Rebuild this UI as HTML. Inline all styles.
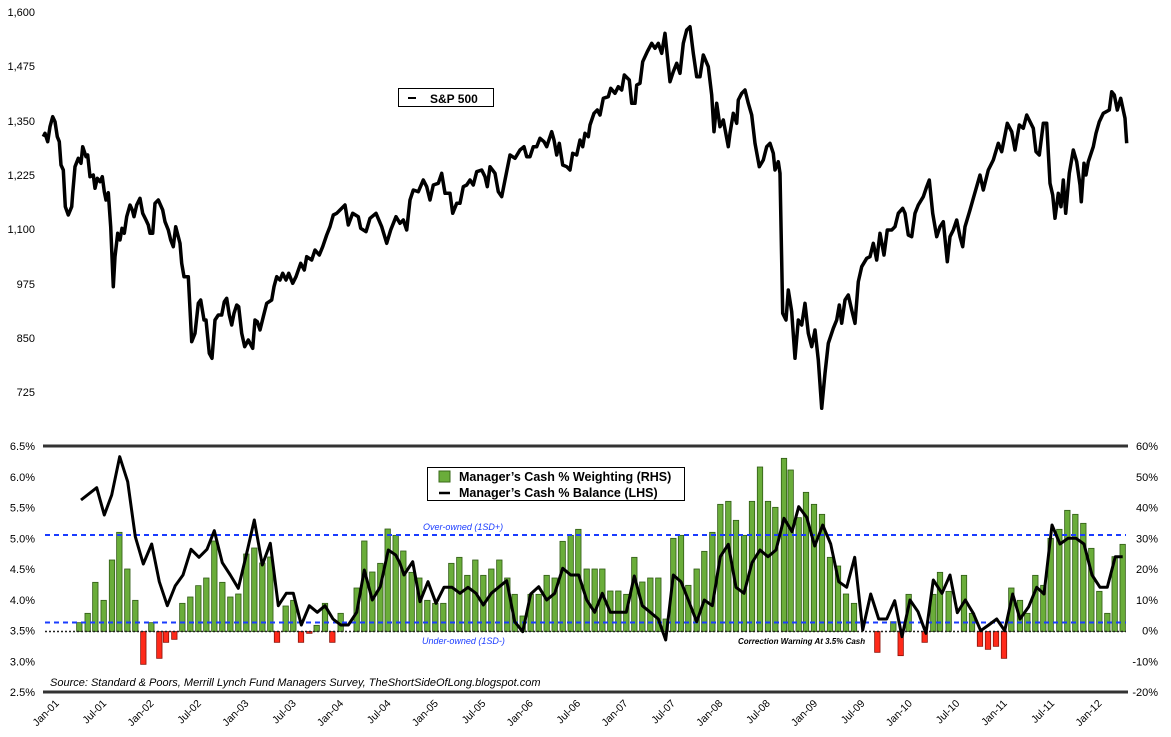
<!DOCTYPE html>
<html><head><meta charset="utf-8">
<style>
html,body{margin:0;padding:0;background:#fff;}
svg{display:block;font-family:"Liberation Sans",sans-serif;}
</style></head>
<body>
<svg id="c" width="1171" height="737" viewBox="0 0 1171 737" xmlns="http://www.w3.org/2000/svg">
<rect width="1171" height="737" fill="#fff"/>
<g font-size="11" fill="#000" text-anchor="end">
<text x="35" y="16">1,600</text>
<text x="35" y="70">1,475</text>
<text x="35" y="125">1,350</text>
<text x="35" y="179">1,225</text>
<text x="35" y="233">1,100</text>
<text x="35" y="288">975</text>
<text x="35" y="342">850</text>
<text x="35" y="396">725</text>
<text x="35" y="450">6.5%</text>
<text x="35" y="512">6.0%</text>
<text x="35" y="573">5.5%</text>
<text x="35" y="635">5.0%</text>
<text x="35" y="696">4.5%</text>
</g>
<g id="lhs" font-size="11" text-anchor="end"></g>
<g id="rhs" font-size="11" text-anchor="end"></g>
<g id="bars"></g>
<line x1="45" y1="535" x2="1126" y2="535" stroke="#1a3cff" stroke-width="2" stroke-dasharray="5,4"/>
<line x1="45" y1="622.5" x2="1126" y2="622.5" stroke="#1a3cff" stroke-width="2" stroke-dasharray="5,4"/>
<line x1="45" y1="631.5" x2="1126" y2="631.5" stroke="#222" stroke-width="1.5" stroke-dasharray="2,2"/>
<line x1="43" y1="446" x2="1128" y2="446" stroke="#333" stroke-width="3"/>
<line x1="43" y1="692" x2="1128" y2="692" stroke="#333" stroke-width="3"/>
<polyline id="cash" fill="none" stroke="#000" stroke-width="3" stroke-linejoin="round"/>
<polyline id="spx" fill="none" stroke="#000" stroke-width="3.5" stroke-linejoin="round"/>
<rect x="398.5" y="88.5" width="95" height="18" fill="#fff" stroke="#000"/>
<line x1="408" y1="98" x2="416" y2="98" stroke="#000" stroke-width="2"/>
<text x="430" y="103" font-size="12" font-weight="bold">S&amp;P 500</text>
<rect x="427.5" y="467.5" width="257" height="33" fill="#fff" stroke="#000"/>
<rect x="439" y="471" width="11" height="11" fill="#6aad3a" stroke="#3a6a1a"/>
<text x="459" y="481" font-size="12.5" font-weight="bold">Manager’s Cash % Weighting (RHS)</text>
<line x1="439" y1="493" x2="450" y2="493" stroke="#000" stroke-width="2.5"/>
<text x="459" y="497" font-size="12.5" font-weight="bold">Manager’s Cash % Balance (LHS)</text>
<text x="423" y="530" font-size="9" font-style="italic" fill="#1a3cff">Over-owned (1SD+)</text>
<text x="422" y="644" font-size="9" font-style="italic" fill="#1a3cff">Under-owned (1SD-)</text>
<text x="738" y="644" font-size="8" font-style="italic" font-weight="bold" fill="#000">Correction Warning At 3.5% Cash</text>
<text x="50" y="686" font-size="11" font-style="italic">Source: Standard &amp; Poors, Merrill Lynch Fund Managers Survey, TheShortSideOfLong.blogspot.com</text>
<g id="xl" font-size="10.5" text-anchor="end"></g>
</svg>
<script>
var NS="http://www.w3.org/2000/svg";
function el(t,a,p,txt){var e=document.createElementNS(NS,t);for(var k in a)e.setAttribute(k,a[k]);if(txt!=null)e.textContent=txt;document.getElementById(p).appendChild(e);return e;}
// left axis lower
var L=["6.5%","6.0%","5.5%","5.0%","4.5%","4.0%","3.5%","3.0%","2.5%"];
// remove duplicates of static
var st=document.querySelectorAll("svg > g")[0].children;for(var i=st.length-1;i>=8;i--)st[i].remove();
for(var i=0;i<9;i++)el("text",{x:35,y:446+i*30.75+4},"lhs",L[i]);
var R=["60%","50%","40%","30%","20%","10%","0%","-10%","-20%"];
for(var i=0;i<9;i++)el("text",{x:1158,y:446+i*30.75+4},"rhs",R[i]);
// x labels
var mn=["Jan","Jul"];
for(var m=0;m<=132;m+=6){var x=55.6+7.9*m;var yy=String(Math.floor(m/12)+1);if(yy.length<2)yy="0"+yy;
var lab=mn[(m/6)%2]+"-"+yy;el("text",{x:0,y:0,transform:"translate("+(x+4)+",704) rotate(-45)"},"xl",lab);}
// bars
function bz(arr,ox,skip){var o=[];arr.forEach(function(p){if(skip&&p[0]<skip)return;o.push([ox+p[0]/3,440+p[1]/3]);});return o;}
var b1=[[238,548],[263,520],[286,427],[311,481],[336,360],[358,277],[382,387],[406,481],[430,673],[454,548],[478,655],[498,607],[523,598],[547,490],[571,471],[595,437],[619,414],[643,303],[667,427],[691,471],[715,462],[739,342],[763,324],[787,369],[811,351],[831,607],[857,498],[880,481],[903,607],[928,580],[950,556],[975,490],[997,607],[1022,520],[1070,444],[1093,303],[1117,396],[1141,370],[1163,267],[1187,286]];
var b2=[[10,333],[35,397],[58,414],[82,481],[106,490],[130,490],[154,370],[178,352],[202,406],[226,360],[250,406],[274,387],[298,360],[322,414],[344,463],[368,528],[392,463],[416,463],[440,406],[464,414],[488,304],[512,286],[535,268],[560,387],[584,387],[607,387],[631,453],[655,453],[679,463],[703,352],[727,426],[751,414],[775,414],[797,537],[820,295],[843,286],[865,436],[890,387],[913,334],[937,277],[961,193],[985,184],[1008,241],[1032,286],[1056,184],[1080,81],[1104,184],[1126,202],[1152,55],[1172,90],[1196,233]];
var b3=[[78,157],[102,193],[126,223],[150,352],[174,378],[198,462],[222,490],[292,637],[340,545],[362,647],[386,463],[434,607],[460,463],[480,397],[506,454],[552,406],[576,520],[600,619],[624,628],[648,619],[672,655],[694,444],[720,481],[742,520],[766,406],[790,436],[812,295],[838,268],[862,211],[886,223],[910,250],[934,325],[958,454],[982,520],[1004,350],[1028,313]];
var bars=bz(b1,0).concat(bz(b2,400)).concat(bz(b3,780));
var base=631.5;
bars.forEach(function(p){var x=p[0],y=p[1];
if(y<base){el("rect",{x:x-2.7,y:y,width:5.4,height:base-y,fill:"#6aad3a",stroke:"#2f5a14","stroke-width":0.8},"bars");}
else{el("rect",{x:x-2.7,y:base,width:5.4,height:y-base,fill:"#ff2a1a",stroke:"#8a1008","stroke-width":0.8},"bars");}});
// cash line
function pz(arr,ox,oy,minx){var s=[];arr.forEach(function(p){var x=ox+p[0]/3;if(minx!=null&&x<=minx)return;s.push(x.toFixed(1)+","+(oy+p[1]/3).toFixed(1));});return s;}
var l1=[[243,180],[290,143],[313,225],[335,165],[359,50],[383,125],[406,290],[430,372],[455,312],[478,425],[502,497],[526,437],[549,405],[573,328],[597,352],[621,328],[643,272],[667,368],[691,405],[715,445],[739,345],[763,240],[787,375],[811,310],[835,497],[859,460],[880,460],[904,555],[928,497],[952,517],[975,497],[999,537],[1022,555],[1045,555],[1070,517],[1093,390],[1117,480],[1141,440],[1165,330],[1187,345]];
var l2=[[0,370],[12,405],[38,365],[60,485],[84,425],[108,490],[132,442],[156,442],[180,460],[204,442],[228,460],[250,495],[274,460],[298,440],[320,422],[344,545],[368,575],[392,462],[416,440],[440,480],[464,460],[488,385],[512,405],[536,405],[560,480],[584,517],[607,460],[631,517],[655,517],[679,517],[703,408],[727,497],[751,517],[775,537],[797,600],[820,405],[843,425],[865,480],[890,545],[913,480],[937,497],[961,350],[985,313],[1008,442],[1032,460],[1056,368],[1080,330],[1104,350],[1128,330],[1152,235],[1176,275],[1196,200]];
var l3=[[0,270],[8,235],[34,282],[56,197],[80,232],[104,318],[128,255],[152,312],[176,425],[200,442],[224,352],[248,570],[272,462],[296,537],[320,537],[344,482],[366,590],[390,480],[414,515],[438,580],[460,420],[486,460],[510,405],[532,518],[556,480],[580,520],[602,572],[626,555],[650,537],[674,572],[698,462],[720,537],[746,500],[770,442],[792,462],[816,255],[840,312],[864,295],[888,295],[912,312],[936,405],[960,442],[982,442],[1006,350],[1028,350]];
document.getElementById("cash").setAttribute("points",pz(l1,0,440).concat(pz(l2,400,440,396)).concat(pz(l3,780,440,800)).join(" "));
// S&P
var s1=[[130,410],[135,400],[143,425],[150,380],[158,350],[165,365],[172,410],[178,425],[183,495],[190,510],[196,620],[205,645],[215,620],[218,580],[225,500],[235,475],[243,490],[248,440],[258,470],[263,465],[270,530],[280,525],[285,565],[292,535],[300,545],[307,530],[313,575],[318,600],[325,578],[332,680],[340,860],[345,770],[353,700],[360,720],[366,685],[373,700],[380,650],[390,615],[397,630],[402,650],[410,615],[420,595],[428,640],[438,660],[445,675],[450,700],[458,700],[465,610],[475,600],[488,630],[495,665],[505,690],[512,720],[520,740],[527,680],[540,730],[545,790],[552,830],[565,830],[575,1025],[585,1000],[595,910],[602,900],[612,960],[618,960],[628,1060],[636,1075],[645,960],[655,945],[665,945],[673,905],[680,895],[688,945],[695,975],[702,940],[710,915],[716,920],[725,1000],[734,1040],[745,1020],[758,1045],[765,960],[772,965],[780,990],[790,950],[800,910],[815,900],[822,860],[830,830],[840,840],[848,820],[858,840],[866,820],[878,850],[888,830],[902,790],[913,810],[920,770],[935,780],[945,750],[958,765],[968,740],[980,705],[990,680],[1000,645],[1010,640],[1020,630],[1035,615],[1045,675],[1058,640],[1075,650],[1082,685],[1098,695],[1110,655],[1128,640],[1145,680],[1160,730],[1172,690],[1188,650],[1200,670]];
var s2=[[0,630],[10,660],[20,690],[30,600],[40,570],[55,575],[70,540],[80,560],[90,600],[100,555],[115,550],[125,520],[135,580],[150,580],[158,640],[170,610],[180,610],[190,560],[200,555],[210,540],[220,555],[230,515],[245,510],[255,530],[262,560],[270,500],[285,520],[295,575],[305,590],[315,540],[330,465],[345,475],[360,450],[372,440],[380,470],[390,470],[400,440],[410,440],[420,415],[432,425],[440,440],[455,395],[462,420],[470,465],[478,430],[488,495],[500,500],[510,510],[518,460],[530,465],[540,420],[548,440],[555,400],[565,410],[570,375],[582,340],[592,330],[600,345],[610,295],[625,290],[632,265],[645,280],[655,260],[665,270],[673,225],[688,240],[695,310],[705,310],[710,255],[720,250],[728,185],[742,155],[755,130],[765,145],[775,130],[785,160],[795,100],[810,245],[820,215],[830,190],[840,220],[850,130],[860,90],[870,80],[880,160],[890,230],[900,230],[910,165],[925,200],[935,285],[942,395],[950,310],[960,380],[970,360],[985,440],[990,400],[1000,340],[1010,370],[1015,300],[1025,280],[1035,270],[1045,310],[1055,345],[1065,430],[1078,500],[1090,480],[1100,440],[1110,430],[1120,460],[1125,510],[1135,485],[1140,520],[1148,940],[1158,960],[1165,870],[1175,935],[1185,1075],[1195,960]];
var s3=[[65,975],[75,910],[85,1000],[95,1040],[105,990],[115,1080],[125,1225],[135,1120],[145,1030],[160,985],[170,960],[178,915],[185,970],[195,900],[205,885],[215,930],[225,970],[235,845],[245,800],[260,775],[270,770],[280,730],[290,780],[300,700],[312,765],[322,690],[335,690],[345,680],[355,640],[368,625],[375,640],[385,705],[395,710],[405,640],[415,615],[430,590],[440,560],[448,540],[458,640],[470,710],[480,680],[490,665],[502,785],[510,710],[520,690],[530,660],[540,710],[548,740],[555,680],[570,630],[580,595],[600,525],[610,570],[625,510],[640,480],[655,430],[665,455],[682,370],[695,395],[705,450],[718,375],[730,385],[740,345],[760,385],[768,455],[778,465],[790,370],[800,370],[810,550],[818,585],[825,655],[835,580],[843,620],[850,540],[857,640],[868,520],[880,450],[890,485],[900,555],[904,605],[912,490],[918,525],[925,485],[940,440],[948,400],[958,365],[970,340],[988,330],[995,275],[1003,285],[1012,330],[1022,295],[1035,355],[1040,430]];
document.getElementById("spx").setAttribute("points",pz(s1,0,0).concat(pz(s2,400,0,400)).concat(pz(s3,780,0,798.5)).join(" "));
</script>
</body></html>
